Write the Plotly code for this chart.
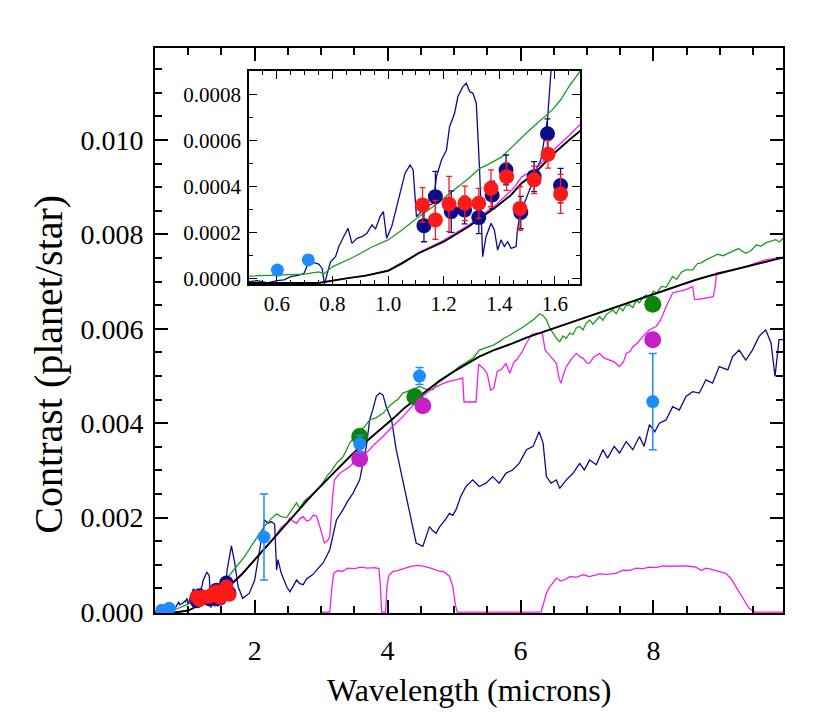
import numpy as np
import plotly.graph_objects as go

# model spectra, wavelengths in microns, contrast in units of 1e-3
navy_x = [0.50, 0.53, 0.567, 0.60, 0.626, 0.65, 0.68, 0.698, 0.71, 0.733, 0.751, 0.763, 0.771, 0.781,
          0.793, 0.811, 0.823, 0.84, 0.856, 0.87, 0.888, 0.906, 0.924, 0.942, 0.955, 0.971, 0.983, 0.995,
          1.013, 1.031, 1.043, 1.061, 1.079, 1.09, 1.102, 1.12, 1.138, 1.162, 1.174, 1.192, 1.21, 1.221,
          1.239, 1.251, 1.269, 1.281, 1.293, 1.305, 1.317, 1.329, 1.34, 1.352, 1.37, 1.382, 1.394, 1.406,
          1.418, 1.43, 1.442, 1.46, 1.465, 1.477, 1.495, 1.513, 1.531, 1.549, 1.561, 1.573, 1.585, 1.60,
          1.62, 1.65, 1.70, 1.75, 1.82, 1.92, 2.00, 2.05, 2.10, 2.15, 2.20, 2.25, 2.30, 2.33, 2.35, 2.40,
          2.48, 2.53, 2.58, 2.63, 2.68, 2.73, 2.78, 2.83, 2.88, 2.93, 3.03, 3.13, 3.23, 3.33, 3.40, 3.48,
          3.58, 3.68, 3.73, 3.78, 3.83, 3.88, 3.93, 3.98, 4.06, 4.13, 4.23, 4.33, 4.43, 4.53, 4.58, 4.63,
          4.68, 4.73, 4.78, 4.83, 4.88, 4.93, 4.98, 5.03, 5.10, 5.18, 5.28, 5.38, 5.48, 5.58, 5.68, 5.78,
          5.88, 5.98, 6.09, 6.19, 6.28, 6.34, 6.39, 6.46, 6.54, 6.59, 6.69, 6.79, 6.89, 6.96, 7.04, 7.14,
          7.24, 7.31, 7.41, 7.49, 7.59, 7.69, 7.79, 7.86, 7.94, 8.02, 8.09, 8.19, 8.29, 8.39, 8.49, 8.59,
          8.69, 8.79, 8.89, 8.99, 9.12, 9.19, 9.29, 9.39, 9.49, 9.59, 9.69, 9.77, 9.83, 9.89, 9.95]
navy_y = [-0.014, -0.01, -0.02, -0.01, -0.007, 0.007, 0.014, 0.022, 0.058, 0.068, 0.062, 0.043, -0.025, 0.022,
          0.072, 0.094, 0.138, 0.181, 0.217, 0.152, 0.174, 0.181, 0.196, 0.232, 0.215, 0.268, 0.29, 0.174,
          0.225, 0.312, 0.37, 0.457, 0.493, 0.471, 0.268, 0.29, 0.312, 0.326, 0.442, 0.514, 0.558, 0.659,
          0.717, 0.79, 0.833, 0.848, 0.812, 0.804, 0.761, 0.471, 0.094, 0.181, 0.239, 0.21, 0.123, 0.167,
          0.138, 0.159, 0.13, 0.138, 0.21, 0.297, 0.341, 0.399, 0.471, 0.514, 0.601, 0.688, 0.891, 1.00,
          1.10, 1.40, 1.04, 0.54, 0.29, 0.40, 0.68, 1.11, 1.55, 1.95, 1.88, 1.92, 1.86, 0.89, 1.11, 0.82,
          0.54, 0.43, 0.55, 0.68, 0.60, 0.58, 0.70, 0.75, 0.80, 0.89, 1.04, 1.32, 1.95, 2.17, 2.35, 2.52,
          2.80, 3.51, 4.07, 4.30, 4.57, 4.64, 4.60, 4.35, 4.07, 3.44, 2.80, 2.09, 1.46, 1.39, 1.60, 1.81,
          1.72, 1.67, 1.80, 1.88, 1.98, 2.09, 2.05, 2.17, 2.45, 2.66, 2.80, 2.66, 2.73, 2.87, 2.73, 2.94,
          3.01, 3.15, 3.44, 3.51, 3.82, 3.58, 2.87, 2.73, 2.80, 2.62, 2.80, 2.94, 3.15, 3.01, 3.22, 3.12,
          3.44, 3.26, 3.51, 3.37, 3.61, 3.44, 3.72, 3.51, 3.97, 3.82, 4.00, 4.07, 4.35, 4.28, 4.57, 4.67,
          4.64, 4.92, 4.85, 5.20, 5.13, 5.41, 5.55, 5.34, 5.55, 5.84, 5.98, 5.70, 4.99, 5.77, 5.77]

green_x = [0.50, 0.55, 0.59, 0.65, 0.70, 0.75, 0.77, 0.80, 0.85, 0.88, 0.94, 1.00, 1.05, 1.11, 1.16,
           1.20, 1.25, 1.29, 1.33, 1.36, 1.41, 1.44, 1.47, 1.50, 1.53, 1.56, 1.59, 1.62, 1.65, 1.69,
           1.75, 1.85, 1.95, 2.05, 2.15, 2.25, 2.33, 2.40, 2.48, 2.55, 2.63, 2.68, 2.75, 2.83, 2.93,
           3.00, 3.08, 3.15, 3.23, 3.33, 3.43, 3.50, 3.58, 3.65, 3.73, 3.83, 3.93, 4.00, 4.08, 4.15,
           4.23, 4.35, 4.48, 4.58, 4.68, 4.75, 4.83, 4.95, 5.08, 5.20, 5.30, 5.38, 5.45, 5.52, 5.60,
           5.68, 5.75, 5.83, 5.90, 5.98, 6.05, 6.12, 6.19, 6.29, 6.34, 6.39, 6.44, 6.49, 6.54, 6.59,
           6.64, 6.69, 6.74, 6.79, 6.84, 6.89, 6.94, 6.99, 7.04, 7.09, 7.14, 7.19, 7.24, 7.29, 7.34,
           7.39, 7.44, 7.49, 7.54, 7.59, 7.64, 7.69, 7.74, 7.79, 7.84, 7.89, 7.94, 8.00, 8.05, 8.12,
           8.19, 8.24, 8.29, 8.35, 8.42, 8.49, 8.59, 8.66, 8.72, 8.79, 8.89, 8.97, 9.05, 9.19, 9.28,
           9.39, 9.47, 9.55, 9.62, 9.69, 9.76, 9.84, 9.90, 9.95]
green_y = [0.010, 0.012, 0.012, 0.014, 0.018, 0.028, 0.02, 0.05, 0.078, 0.095, 0.135, 0.167, 0.21, 0.268, 0.31,
           0.348, 0.395, 0.435, 0.478, 0.495, 0.529, 0.565, 0.601, 0.635, 0.667, 0.70, 0.732, 0.775, 0.833, 0.90,
           0.99, 1.18, 1.40, 1.60, 1.82, 1.98, 2.08, 2.02, 2.00, 2.15, 2.31, 2.20, 2.36, 2.45, 2.59,
           2.68, 2.87, 2.98, 3.15, 3.29, 3.58, 3.70, 3.86, 3.92, 4.07, 4.12, 4.21, 4.32, 4.43, 4.50,
           4.64, 4.70, 4.78, 4.72, 4.71, 4.85, 4.92, 5.05, 5.20, 5.30, 5.40, 5.55, 5.58, 5.62, 5.66,
           5.73, 5.80, 5.86, 5.92, 5.98, 6.05, 6.12, 6.19, 6.32, 6.28, 6.19, 6.02, 5.91, 5.80, 5.73,
           5.85, 5.80, 5.91, 5.88, 6.02, 6.05, 5.98, 6.12, 6.19, 6.10, 6.19, 6.26, 6.18, 6.30, 6.35,
           6.40, 6.32, 6.45, 6.38, 6.50, 6.51, 6.45, 6.60, 6.55, 6.66, 6.72, 6.65, 6.80, 6.76, 6.90,
           6.88, 7.00, 7.11, 7.05, 7.20, 7.25, 7.25, 7.38, 7.40, 7.46, 7.53, 7.58, 7.55, 7.64, 7.70,
           7.60, 7.66, 7.78, 7.75, 7.82, 7.86, 7.89, 7.84, 7.92]

black_x = [0.50, 0.75, 0.85, 0.92, 1.00, 1.05, 1.11, 1.20, 1.29, 1.39, 1.44, 1.48, 1.53, 1.59, 1.65, 1.69,
           1.80, 1.90, 2.00, 2.10, 2.20, 2.30, 2.43, 2.60, 2.80, 3.00, 3.20, 3.43, 3.60, 3.80, 3.93, 4.10,
           4.25, 4.43, 4.60, 4.78, 5.00, 5.20, 5.38, 5.60, 5.88, 6.10, 6.39, 6.60, 6.89, 7.14, 7.39, 7.64,
           7.89, 8.14, 8.39, 8.64, 8.89, 9.14, 9.39, 9.64, 9.95]
black_y = [-0.02, -0.02, 0.0, 0.012, 0.033, 0.065, 0.109, 0.159, 0.225, 0.312, 0.36, 0.413, 0.46, 0.536, 0.60, 0.64,
           0.79, 0.95, 1.10, 1.26, 1.42, 1.58, 1.80, 2.08, 2.38, 2.68, 2.97, 3.29, 3.52, 3.76, 3.90, 4.12,
           4.32, 4.52, 4.72, 4.90, 5.10, 5.27, 5.41, 5.55, 5.69, 5.82, 5.96, 6.07, 6.20, 6.32, 6.44, 6.56,
           6.68, 6.81, 6.93, 7.04, 7.14, 7.23, 7.32, 7.41, 7.51]

magenta_x = [0.50, 0.75, 0.85, 0.92, 1.00, 1.05, 1.11, 1.20, 1.29, 1.39, 1.45, 1.48, 1.50, 1.52, 1.55, 1.59,
             1.65, 1.69, 1.80, 1.90, 2.00, 2.10, 2.20, 2.28, 2.33, 2.40, 2.48, 2.53, 2.58, 2.63, 2.68,
             2.73, 2.78, 2.83, 2.88, 2.93, 2.98, 3.02, 3.05, 3.10, 3.13, 3.17, 3.20, 3.28, 3.35, 3.43,
             3.50, 3.58, 3.70, 3.80, 3.93, 4.05, 4.23, 4.35, 4.43, 4.55, 4.68, 4.83, 4.95, 5.06, 5.13,
             5.15, 5.33, 5.37, 5.45, 5.50, 5.55, 5.60, 5.65, 5.72, 5.78, 5.84, 5.90, 5.94, 6.02, 6.09,
             6.17, 6.24, 6.33, 6.37, 6.41, 6.48, 6.54, 6.58, 6.61, 6.65, 6.69, 6.76, 6.84, 6.90, 6.94,
             7.00, 7.04, 7.10, 7.19, 7.26, 7.34, 7.41, 7.49, 7.55, 7.59, 7.65, 7.69, 7.76, 7.84, 7.94,
             8.04, 8.11, 8.19, 8.24, 8.29, 8.40, 8.49, 8.59, 8.62, 8.70, 8.80, 8.90, 8.93, 8.95, 9.10,
             9.25, 9.39, 9.55, 9.69, 9.80, 9.95]
magenta_y = [-0.02, -0.02, 0.0, 0.012, 0.035, 0.068, 0.112, 0.165, 0.232, 0.322, 0.39, 0.44, 0.455, 0.455, 0.50, 0.552,
             0.62, 0.667, 0.80, 0.95, 1.10, 1.26, 1.42, 1.54, 1.64, 1.80, 1.88, 1.99, 1.92, 1.88, 1.98,
             2.02, 1.93, 1.95, 2.05, 2.04, 1.81, 1.60, 1.46, 1.52, 1.60, 2.40, 2.80, 2.94, 3.00, 3.08,
             3.18, 3.25, 3.40, 3.55, 3.72, 3.90, 4.14, 4.33, 4.46, 4.60, 4.74, 4.84, 4.90, 4.93, 4.96,
             4.45, 4.45, 5.25, 5.15, 5.05, 4.70, 4.75, 5.10, 5.15, 5.27, 5.06, 5.30, 5.34, 5.50, 5.70,
             5.88, 5.91, 5.90, 5.55, 5.48, 5.35, 5.27, 4.95, 4.85, 5.05, 5.20, 5.35, 5.48, 5.40, 5.38,
             5.28, 5.27, 5.40, 5.48, 5.38, 5.34, 5.30, 5.20, 5.30, 5.48, 5.52, 5.62, 5.70, 5.84, 5.98,
             6.05, 6.19, 6.47, 6.62, 6.76, 6.80, 6.83, 6.90, 6.62, 6.63, 6.65, 6.68, 6.90, 7.18, 7.22,
             7.27, 7.32, 7.40, 7.46, 7.49, 7.52]

# IRAC bandpasses (arbitrary scale)
filt_x = [3.00, 3.13, 3.16, 3.19, 3.25, 3.32, 3.40, 3.50, 3.60, 3.70, 3.80, 3.87, 3.89, 3.91, 3.97, 3.99,
          4.02, 4.08, 4.15, 4.25, 4.35, 4.45, 4.55, 4.65, 4.75, 4.85, 4.93, 4.98, 5.02, 5.05, 6.31, 6.39,
          6.44, 6.49, 6.54, 6.60, 6.66, 6.74, 6.85, 6.94, 7.04, 7.19, 7.30, 7.44, 7.54, 7.64, 7.74, 7.84,
          7.94, 8.04, 8.14, 8.24, 8.34, 8.44, 8.54, 8.64, 8.72, 8.79, 8.86, 8.94, 9.02, 9.09, 9.17, 9.24,
          9.34, 9.44, 9.54, 9.95]
filt_y = [0.0, 0.0, 0.50, 0.82, 0.88, 0.86, 0.93, 0.92, 0.95, 0.93, 0.94, 0.92, 0.60, 0.0, 0.0, 0.55,
          0.78, 0.86, 0.88, 0.93, 0.97, 0.99, 0.97, 0.93, 0.88, 0.85, 0.76, 0.55, 0.15, 0.0, 0.0, 0.40,
          0.54, 0.62, 0.72, 0.66, 0.68, 0.75, 0.74, 0.79, 0.75, 0.81, 0.80, 0.82, 0.89, 0.88, 0.93, 0.92,
          0.95, 0.94, 0.98, 0.97, 0.98, 0.98, 0.97, 0.95, 0.88, 0.93, 0.91, 0.88, 0.86, 0.82, 0.70, 0.54,
          0.33, 0.08, 0.0, 0.0]

# observed eclipse depths (1e-3)
hst_x = [1.129, 1.170, 1.227, 1.275, 1.326, 1.374, 1.424, 1.477, 1.525, 1.573, 1.620]
hst_navy_y = [0.229, 0.355, 0.290, 0.297, 0.264, 0.362, 0.471, 0.286, 0.442, 0.628, 0.403]
hst_navy_err = [0.07, 0.11, 0.09, 0.06, 0.07, 0.06, 0.065, 0.07, 0.065, 0.065, 0.075]
hst_red_x = [1.124, 1.170, 1.219, 1.276, 1.326, 1.370, 1.426, 1.474, 1.525, 1.575, 1.620]
hst_red_y = [0.319, 0.254, 0.323, 0.326, 0.326, 0.391, 0.442, 0.304, 0.428, 0.539, 0.367]
hst_red_err = [0.075, 0.085, 0.12, 0.075, 0.065, 0.08, 0.06, 0.095, 0.06, 0.06, 0.085]

obs_x = [0.602, 0.713, 2.14, 3.58, 4.48, 7.99]
obs_y = [0.036, 0.080, 1.59, 3.56, 5.00, 4.46]
obs_err = [0.0, 0.0, 0.91, 0.18, 0.18, 1.02]

band_x = [3.58, 4.41, 7.99]
band_green_y = [3.72, 4.56, 6.52]
band_mag_x = [3.58, 4.53, 7.99]
band_mag_y = [3.25, 4.37, 5.77]

S = 1e-3
NAVY = '#0c0c8a'
GREEN_L = '#1c9c1c'
GREEN_D = '#0a840a'
MAG_L = '#f01ef0'
MAG_D = '#c81ec8'
RED = '#ff1a1a'
LBLUE = '#1e8cff'
FONT = 'Liberation Serif'


def sc(v):
    return np.array(v) * S


fig = go.Figure()

for xa, ya in [('x', 'y'), ('x2', 'y2')]:
    #filter curves only in main panel
    if xa == 'x':
        fig.add_trace(go.Scatter(x=filt_x, y=sc(filt_y), mode='lines', xaxis=xa, yaxis=ya,
                                 line=dict(color=MAG_L, width=1.3)))
    fig.add_trace(go.Scatter(x=navy_x, y=sc(navy_y), mode='lines', xaxis=xa, yaxis=ya,
                             line=dict(color=NAVY, width=1.3)))
    fig.add_trace(go.Scatter(x=green_x, y=sc(green_y), mode='lines', xaxis=xa, yaxis=ya,
                             line=dict(color=GREEN_L, width=1.3)))
    fig.add_trace(go.Scatter(x=magenta_x, y=sc(magenta_y), mode='lines', xaxis=xa, yaxis=ya,
                             line=dict(color=MAG_L, width=1.3)))
    fig.add_trace(go.Scatter(x=black_x, y=sc(black_y), mode='lines', xaxis=xa, yaxis=ya,
                             line=dict(color='black', width=1.9)))
    msize = 15 if xa == 'x2' else 14
    fig.add_trace(go.Scatter(x=hst_x, y=sc(hst_navy_y), mode='markers', xaxis=xa, yaxis=ya,
                             marker=dict(color=NAVY, size=msize),
                             error_y=dict(array=sc(hst_navy_err), color=NAVY, thickness=1.3, width=3)))
    fig.add_trace(go.Scatter(x=hst_red_x, y=sc(hst_red_y), mode='markers', xaxis=xa, yaxis=ya,
                             marker=dict(color=RED, size=msize),
                             error_y=dict(array=sc(hst_red_err), color=RED, thickness=1.3, width=3)))

#band-integrated model points
fig.add_trace(go.Scatter(x=band_x, y=sc(band_green_y), mode='markers',
                         marker=dict(color=GREEN_D, size=17)))
fig.add_trace(go.Scatter(x=band_mag_x, y=sc(band_mag_y), mode='markers',
                         marker=dict(color=MAG_D, size=17)))
#photometry
fig.add_trace(go.Scatter(x=obs_x, y=sc(obs_y), mode='markers',
                         marker=dict(color=LBLUE, size=13),
                         error_y=dict(array=sc(obs_err), color=LBLUE, thickness=1.5, width=4)))
fig.add_trace(go.Scatter(x=obs_x[:2], y=sc(obs_y[:2]), mode='markers', xaxis='x2', yaxis='y2',
                         marker=dict(color=LBLUE, size=13)))

axis_common = dict(ticks='inside', mirror='allticks', showline=True, linecolor='black',
                   showgrid=False, zeroline=False, tickcolor='black')

fig.update_layout(
    width=830, height=712,
    paper_bgcolor='white', plot_bgcolor='white',
    showlegend=False,
    margin=dict(l=147, r=55, t=40, b=107),
    font=dict(family=FONT, color='black'),
    xaxis=dict(range=[0.5, 9.95], tickvals=[2, 4, 6, 8], ticklen=13, tickwidth=1.5, linewidth=1.8,
               tickfont=dict(size=28), ticklabelstandoff=11,
               minor=dict(dtick=0.5, tick0=0, ticklen=7, ticks='inside', tickcolor='black'),
               **axis_common),
    yaxis=dict(range=[-0.00002, 0.01195], tickvals=[0, 0.002, 0.004, 0.006, 0.008, 0.010],
               tickformat='.3f', ticklen=13, tickwidth=1.5, linewidth=1.8,
               tickfont=dict(size=28), ticklabelstandoff=4,
               minor=dict(dtick=0.0005, tick0=0, ticklen=7, ticks='inside', tickcolor='black'),
               **axis_common),
    xaxis2=dict(domain=[0.1497, 0.6768], anchor='y2', range=[0.5, 1.69],
                tickvals=[0.6, 0.8, 1.0, 1.2, 1.4, 1.6], tickformat='.1f', ticklen=8, linewidth=1.5,
                tickfont=dict(size=21), ticklabelstandoff=0,
                minor=dict(dtick=0.05, tick0=0, ticklen=4, ticks='inside', tickcolor='black'),
                **axis_common),
    yaxis2=dict(domain=[0.5823, 0.9593], anchor='x2', range=[-0.0000246, 0.000901],
                tickvals=[0, 0.0002, 0.0004, 0.0006, 0.0008], tickformat='.4f', ticklen=8, linewidth=1.5,
                tickfont=dict(size=21), ticklabelstandoff=2,
                minor=dict(dtick=0.0001, tick0=0, ticklen=4, ticks='inside', tickcolor='black'),
                **axis_common),
    annotations=[
        dict(text='Wavelength (microns)', xref='paper', yref='paper', x=0.5, y=-0.137,
             xanchor='center', yanchor='middle', showarrow=False, font=dict(size=32)),
        dict(text='Contrast (planet/star)', xref='paper', yref='paper', x=-0.170, y=0.44,
             xanchor='center', yanchor='middle', textangle=-90, showarrow=False, font=dict(size=40)),
    ],
)

fig.write_html("out.html")
